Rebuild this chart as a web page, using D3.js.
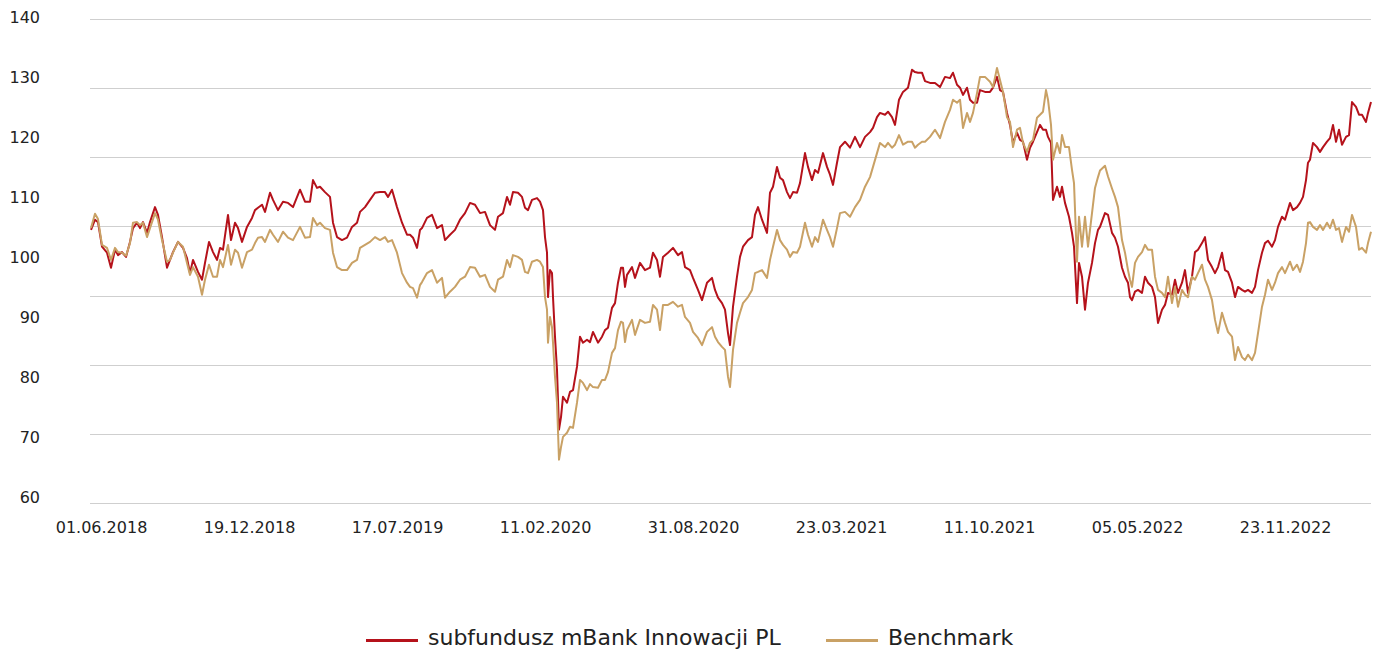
<!DOCTYPE html>
<html><head><meta charset="utf-8">
<script src="https://cdn.jsdelivr.net/npm/d3@7"></script>
<style>
body{margin:0;background:#fff;}
text{font-family:"DejaVu Sans",sans-serif;fill:#222;}
</style>
</head><body>
<svg id="chart" width="1381" height="650"></svg>
<script>
// trading-day index since 01.06.2018 of each sampled observation
const dayIndex = [0,4,7,11,16,20,24,27,31,35,39,42,46,49,52,56,59,64,67,71,76,79,82,87,92,96,99,102,107,111,114,118,122,126,129,132,137,140,144,147,151,156,161,164,167,171,174,179,182,187,192,197,202,209,214,219,222,226,229,234,239,242,246,251,256,261,266,269,274,279,284,289,294,297,301,306,311,316,319,322,326,329,331,336,341,346,351,354,359,364,369,374,379,384,389,394,399,404,407,412,416,419,422,427,431,434,437,441,446,449,452,454,456,457,459,461,462,464,466,468,470,472,476,479,482,486,489,492,496,499,502,507,511,514,517,521,524,527,530,532,534,536,541,544,549,554,559,562,566,569,572,577,582,587,591,594,599,602,607,611,616,621,624,627,631,634,637,639,642,646,649,652,657,661,664,667,671,676,679,682,686,689,692,696,699,702,706,709,714,717,721,724,727,732,736,739,742,746,749,754,759,764,769,774,779,782,786,789,794,797,801,804,808,812,817,821,824,827,831,834,839,844,849,854,859,862,866,869,872,876,879,882,886,889,894,899,902,906,909,912,916,919,922,926,929,932,936,939,942,946,949,952,955,957,960,962,966,969,971,974,978,981,983,986,988,991,994,997,1001,1004,1007,1009,1014,1017,1021,1024,1027,1031,1034,1037,1039,1041,1044,1047,1051,1054,1057,1061,1064,1067,1071,1074,1077,1081,1084,1087,1091,1094,1097,1101,1104,1107,1111,1114,1117,1121,1124,1127,1131,1134,1137,1141,1144,1147,1151,1154,1157,1161,1164,1167,1171,1174,1177,1181,1184,1187,1191,1194,1199,1202,1206,1209,1212,1215,1217,1219,1222,1226,1229,1232,1236,1239,1242,1245,1248,1251,1255,1258,1261,1265,1268,1271,1275,1277,1280];

const fundValues = [104.6,106.3,105.9,101.8,100.8,98.3,101.3,100.4,100.9,100.1,102.6,104.9,105.8,104.9,105.9,104.1,105.9,108.4,107.1,103.4,98.3,99.6,100.9,102.6,101.6,99.9,97.4,99.6,97.6,96.3,99.1,102.6,100.9,99.6,101.6,101.3,107.1,102.9,105.8,104.9,102.6,105.1,106.6,107.9,108.3,108.8,107.6,110.8,109.6,107.9,109.3,109.1,108.4,111.3,109.3,109.3,112.9,111.6,111.8,110.9,110.1,105.8,103.4,102.9,103.3,105.1,105.8,107.6,108.4,109.6,110.8,110.9,110.9,110.1,111.3,108.4,105.8,103.8,103.8,103.3,101.6,104.6,104.9,106.6,107.1,104.9,105.4,102.9,103.8,104.6,106.3,107.4,109.1,108.8,107.4,107.6,105.4,104.6,106.8,107.4,110.1,108.8,110.9,110.8,110.1,108.3,107.9,109.6,109.9,109.3,107.9,103.4,100.8,93.4,97.9,97.4,93.4,86.8,81.3,71.3,73.4,76.8,75.8,77.6,77.9,81.8,86.8,85.8,86.3,85.9,87.6,85.8,86.8,87.9,88.3,91.6,92.4,95.8,98.3,98.3,95.1,97.1,98.4,96.6,99.1,97.9,98.3,100.8,99.6,96.8,100.1,100.8,101.6,100.4,100.9,98.4,97.9,96.6,94.6,92.9,95.8,96.6,94.6,93.3,92.4,91.3,87.4,85.4,91.8,96.8,100.1,101.8,102.9,103.4,107.1,108.4,106.3,104.1,110.8,111.8,115.1,113.3,112.9,110.9,109.9,110.9,110.8,112.4,117.4,115.1,112.9,114.6,114.1,117.4,115.1,113.8,112.1,115.8,118.4,119.3,118.3,120.1,118.4,120.1,120.9,121.6,123.4,124.1,123.8,124.3,123.4,122.1,126.3,127.6,128.3,131.3,130.9,130.8,130.8,129.4,129.1,129.1,128.4,130.1,129.9,130.8,128.8,128.3,127.1,128.3,126.3,125.8,125.8,127.9,127.6,127.6,128.3,130.1,127.9,127.6,124.1,122.1,119.1,120.8,119.6,119.3,116.3,118.3,119.3,120.9,122.1,121.3,121.3,120.1,119.1,109.6,111.8,110.1,111.8,109.1,106.8,104.1,101.8,92.4,99.1,96.8,91.3,95.8,99.1,102.4,104.6,105.1,107.4,107.1,104.1,103.3,101.8,98.3,96.8,95.8,93.4,92.9,94.3,94.6,94.1,96.8,95.8,95.1,93.4,89.1,91.3,92.1,94.1,93.8,96.3,94.1,95.8,97.9,94.1,96.8,100.9,101.3,102.4,103.4,99.6,98.4,97.4,98.4,100.8,97.9,97.6,95.8,93.4,95.1,94.6,94.3,94.6,94.1,95.1,97.9,100.8,102.4,102.8,101.8,102.9,105.1,106.8,106.3,109.1,107.9,108.4,109.1,110.1,112.9,115.8,116.3,119.1,118.4,117.6,118.4,119.3,119.9,122.1,119.3,121.3,118.8,120.1,120.4,125.9,125.1,123.8,123.8,122.6,124.1,125.9];

const benchmarkValues = [104.9,107.3,106.4,102.1,101.6,99.6,101.6,100.9,100.8,100.3,102.4,105.8,105.9,105.4,105.8,103.4,104.9,107.4,106.3,102.9,99.3,99.6,100.8,102.6,101.8,99.1,97.1,98.4,96.8,93.8,96.3,98.8,96.8,96.8,99.6,98.4,102.1,98.8,101.3,100.8,98.3,100.9,101.3,102.4,103.3,103.4,102.6,104.6,103.8,102.6,104.3,103.3,102.9,105.1,103.3,103.4,106.6,105.4,105.8,104.9,104.6,100.8,98.4,97.9,97.9,99.1,99.6,101.6,102.1,102.6,103.4,102.9,103.4,102.6,102.9,100.8,97.4,95.8,95.1,94.9,93.3,95.4,95.9,97.4,97.9,95.8,96.6,93.3,94.3,95.1,96.3,96.8,98.4,98.3,96.8,97.1,95.1,94.3,96.3,96.8,99.6,98.4,100.4,100.1,99.6,97.6,97.4,99.3,99.6,99.3,98.4,93.4,91.3,85.8,90.1,88.4,85.8,80.1,75.8,66.3,68.4,70.1,70.8,71.8,71.6,75.8,79.6,79.1,77.9,78.9,78.4,78.3,79.6,79.6,80.9,84.1,84.9,87.9,89.3,89.1,85.9,87.9,89.6,87.1,89.6,89.1,89.3,92.1,91.3,87.9,92.1,92.1,92.6,91.8,92.1,90.1,89.1,87.6,86.6,85.4,87.6,88.4,86.8,85.9,85.1,84.6,80.1,78.4,84.6,89.1,90.8,92.4,93.4,94.6,97.4,97.6,97.9,96.6,99.6,101.8,104.6,102.9,102.1,101.3,100.1,100.9,100.8,101.8,105.8,103.8,101.8,103.4,102.6,106.3,104.6,103.4,101.8,104.9,107.4,107.6,106.8,108.4,109.6,111.8,113.4,115.1,117.4,119.1,118.4,119.1,118.3,118.8,120.4,118.8,119.3,119.3,118.3,118.8,119.3,119.3,120.1,121.3,119.9,122.6,124.6,126.3,125.8,126.3,121.6,124.1,122.6,124.1,127.4,130.1,130.1,129.3,128.4,131.6,129.6,127.6,123.4,122.6,118.4,121.3,121.6,119.1,117.6,119.1,119.6,123.3,123.8,124.3,127.9,126.3,122.1,116.3,119.1,117.4,120.4,118.4,118.4,114.6,112.4,99.3,106.8,101.8,106.8,101.8,107.4,111.6,113.4,114.5,115.3,113.5,111.5,110.1,108.4,102.9,100.8,97.9,96.3,95.1,99.1,100.1,100.9,102.1,101.3,101.3,96.8,94.6,94.1,93.4,96.8,92.4,95.1,91.8,94.6,93.8,93.4,96.8,96.3,97.4,98.8,96.3,95.1,92.9,89.6,87.4,90.8,89.1,87.6,86.8,82.9,85.1,83.4,82.9,83.8,82.9,84.1,87.4,91.8,93.8,96.3,94.6,95.8,97.4,98.4,97.4,99.3,97.9,98.8,97.6,99.3,102.4,105.8,105.9,105.1,104.6,105.4,104.6,105.8,104.9,106.3,104.6,104.9,102.6,105.1,104.3,107.1,105.1,101.3,101.6,100.8,102.4,104.3];

const tickDays = [0,148,296,444,592,740,888,1036,1184];
const tickLabels = ["01.06.2018","19.12.2018","17.07.2019","11.02.2020","31.08.2020","23.03.2021","11.10.2021","05.05.2022","23.11.2022"];
const yTickValues = [60,70,80,90,100,110,120,130,140];
const gridSteps = [0,1,2,3,4,5,6,7];
const seriesNames = ["subfundusz mBank Innowacji PL","Benchmark"];
const seriesColors = ["#b5121b","#c9a165"];

const svg = d3.select("#chart");
const x = d3.scaleLinear().domain([0,1280]).range([91,1371]);
const y = d3.scaleLinear().domain([60,140]).range([497.5,17.5]);
const grid = d3.scaleLinear().domain([0,7]).range([503,19]);

// horizontal gridlines (7 equal bands, as in the original)
svg.append("g").selectAll("line").data(gridSteps).join("line")
  .attr("x1",90).attr("x2",1371)
  .attr("y1",d=>Math.round(grid(d))+0.5).attr("y2",d=>Math.round(grid(d))+0.5)
  .attr("stroke","#cfcfcf").attr("stroke-width",1);

// y axis labels
const yAxis = d3.axisLeft(y).tickValues(yTickValues).tickSize(0).tickPadding(0);
const gy = svg.append("g").attr("transform","translate(40,0)").call(yAxis);
gy.select(".domain").remove();
gy.selectAll("text").style("font-size","16px").style("font-family","'DejaVu Sans',sans-serif").attr("fill","#222");

// x axis labels
const xAxis = d3.axisBottom(x).tickValues(tickDays).tickFormat((d,i)=>tickLabels[i]).tickSize(0).tickPadding(0);
const gx = svg.append("g").attr("transform","translate(10,522)").call(xAxis);
gx.select(".domain").remove();
gx.selectAll("text").style("font-size","16px").style("font-family","'DejaVu Sans',sans-serif").attr("fill","#222");

const line = d3.line().x((d,i)=>x(dayIndex[i])).y(d=>y(d)).curve(d3.curveLinear);
[fundValues, benchmarkValues].forEach((vals,k)=>{
  svg.append("path").datum(vals).attr("d",line)
    .attr("fill","none").attr("stroke",seriesColors[k]).attr("stroke-width",2)
    .attr("stroke-linejoin","round");
});

// legend
const legendX = [366, 826];
const lg = svg.append("g");
seriesNames.forEach((name,k)=>{
  lg.append("line").attr("x1",legendX[k]).attr("x2",legendX[k]+52)
    .attr("y1",640.5).attr("y2",640.5).attr("stroke",seriesColors[k]).attr("stroke-width",3);
  lg.append("text").attr("x",legendX[k]+62).attr("y",645)
    .style("font-size","22px").style("font-family","'DejaVu Sans',sans-serif").text(name);
});
</script>
</body></html>
